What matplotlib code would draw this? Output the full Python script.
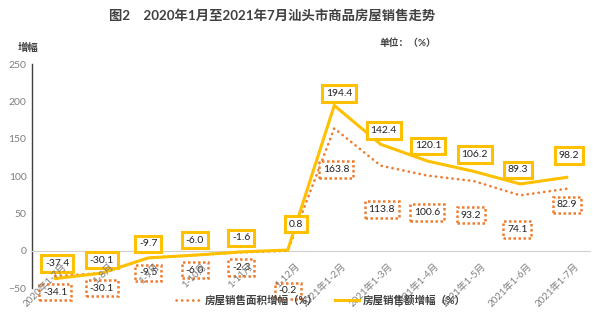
import matplotlib
matplotlib.use("Agg")
import matplotlib.pyplot as plt
import numpy as np

plt.rcParams['font.family'] = ['Lato', 'Noto Sans CJK SC', 'DejaVu Sans']

# Categories and series
categories = ["2020年1-7月", "1-8月", "1-9月", "1-10月", "1-11月", "1-12月",
              "2021年1-2月", "2021年1-3月", "2021年1-4月", "2021年1-5月",
              "2021年1-6月", "2021年1-7月"]
area_growth = [-34.1, -30.1, -9.5, -6.0, -2.3, -0.2, 163.8, 113.8, 100.6, 93.2, 74.1, 82.9]
sales_growth = [-37.4, -30.1, -9.7, -6.0, -1.6, 0.8, 194.4, 142.4, 120.1, 106.2, 89.3, 98.2]

area_name = "房屋销售面积增幅（%）"
sales_name = "房屋销售额增幅（%）"

# label offsets in pixels (dx, dy)
sales_lbl_off = [(2, 15), (0, 13), (0, 14), (0, 15), (0, 14), (8, 26),
                 (5, 12), (3, 14), (1, 15), (1, 17), (-2, 14), (2, 22)]
area_lbl_off = [(0, -16), (0, -15), (0, -15), (0, -15), (0, -15), (0, -40),
                (2, -41), (1, -44), (0, -37), (-3, -34), (-3, -34), (0, -16)]

GOLD = "#FFC000"
ORANGE = "#ED7D31"

fig = plt.figure(figsize=(6.0, 3.28), dpi=100)
ax = fig.add_axes([32 / 600, 1 - 288 / 328, 558 / 600, 224 / 328])

x = np.arange(len(categories))
ax.plot(x, area_growth, color=ORANGE, lw=1.9, ls=(0, (0.1, 2.0)),
        dash_capstyle='round', zorder=3, label=area_name)
ax.plot(x, sales_growth, color=GOLD, lw=2.2, zorder=4, label=sales_name,
        solid_joinstyle='miter')

for xi, v, (dx, dy) in zip(x, sales_growth, sales_lbl_off):
    ax.annotate(f"{v:.1f}", (xi, v), xytext=(dx, dy), textcoords='offset pixels',
                ha='center', va='center', fontsize=7.5, color='#222222', zorder=6,
                bbox=dict(boxstyle='square,pad=0.36', fc='white', ec=GOLD, lw=2.2))
for xi, v, (dx, dy) in zip(x, area_growth, area_lbl_off):
    ax.annotate(f"{v:.1f}", (xi, v), xytext=(dx, dy), textcoords='offset pixels',
                ha='center', va='center', fontsize=7.5, color='#222222', zorder=5,
                bbox=dict(boxstyle='square,pad=0.36', fc='white', ec=ORANGE, lw=1.8,
                          ls=(0, (1, 1))))

ax.set_xlim(-0.5, len(categories) - 0.5)
ax.set_ylim(-50, 250)
ax.set_yticks(np.arange(-50, 251, 50))
ax.tick_params(axis='y', length=0, labelsize=7.5, labelcolor='#7f7f7f', pad=4)
ax.set_xticks(x)
ax.tick_params(axis='x', length=0, labelbottom=False)

# category labels hang below the zero line, rotated, drawn over the value boxes
for xi, cat in zip(x, categories):
    ax.annotate(cat, (xi, 0), xytext=(7, -11), textcoords='offset pixels',
                rotation=45, ha='right', va='top', rotation_mode='anchor',
                fontsize=7, color='#7f7f7f', zorder=8, annotation_clip=False)

for s in ('top', 'right'):
    ax.spines[s].set_visible(False)
ax.spines['left'].set_color('#404040')
ax.spines['left'].set_linewidth(1.0)
ax.spines['bottom'].set_position(('data', 0))
ax.spines['bottom'].set_color('#d0d0d0')
ax.spines['bottom'].set_linestyle((0, (1, 1)))
ax.spines['bottom'].set_linewidth(0.8)
ax.set_facecolor('none')

fig.text(272 / 600, 1 - 15 / 328, "图2　2020年1月至2021年7月汕头市商品房屋销售走势",
         ha='center', va='center', fontsize=9.6, fontweight='bold', color='#404040')
fig.text(28 / 600, 1 - 48 / 328, "增幅", ha='center', va='center', fontsize=7.5,
         fontweight='bold', color='#404040')
fig.text(408 / 600, 1 - 43 / 328, "单位：（%）", ha='center', va='center', fontsize=7,
         fontweight='bold', color='#404040')

leg = fig.legend(loc='center', bbox_to_anchor=(321 / 600, 1 - 300 / 328), ncol=2,
                 frameon=False, fontsize=7.6, handlelength=2.3, handletextpad=0.4,
                 columnspacing=1.6, borderpad=0)
for t in leg.get_texts():
    t.set_color('#404040')
    t.set_fontweight('bold')

fig.savefig("out.png", dpi=100)
